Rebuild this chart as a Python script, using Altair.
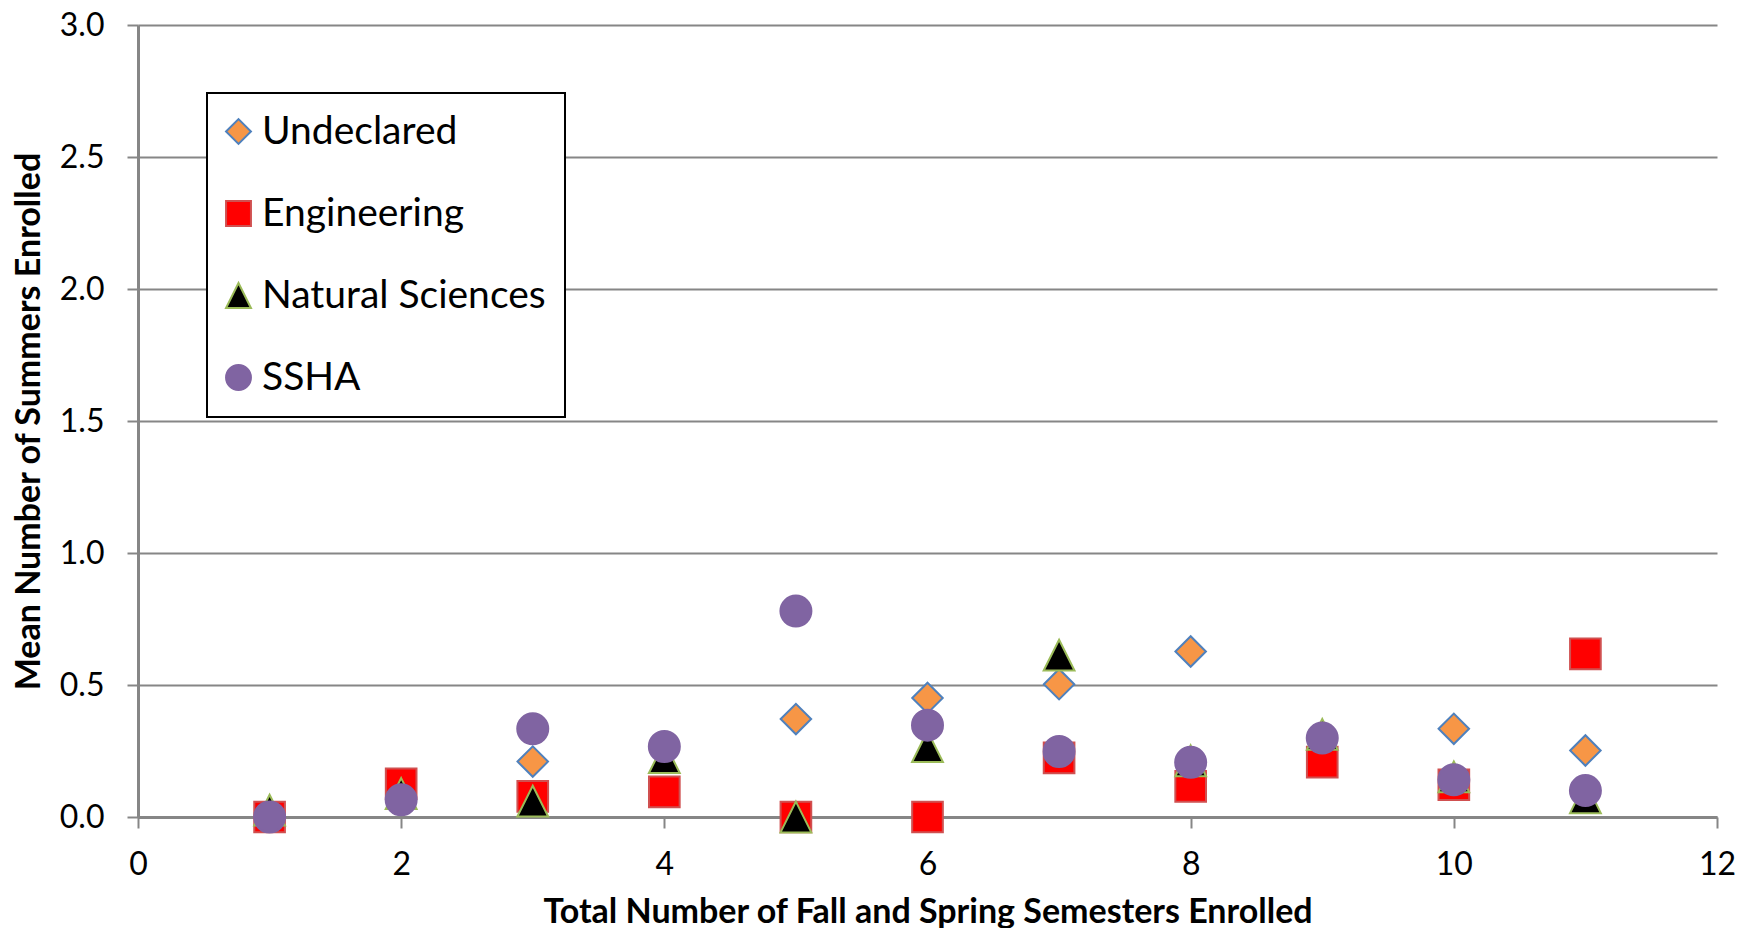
import altair as alt
import pandas as pd

series_names = ["Undeclared", "Engineering", "Natural Sciences", "SSHA"]

undeclared_x = [3, 5, 6, 7, 8, 10, 11]
undeclared_y = [0.21, 0.371, 0.451, 0.503, 0.627, 0.334, 0.252]

engineering_x = [1, 2, 3, 4, 5, 6, 7, 8, 9, 10, 11]
engineering_y = [0.0, 0.126, 0.078, 0.095, 0.0, 0.0, 0.224, 0.116, 0.208, 0.122, 0.618]

natsci_x = [1, 2, 3, 4, 5, 6, 7, 8, 9, 10, 11]
natsci_y = [0.026, 0.089, 0.06, 0.225, 0.0, 0.267, 0.613, 0.213, 0.313, 0.152, 0.073]

ssha_x = [1, 2, 3, 4, 5, 6, 7, 8, 9, 10, 11]
ssha_y = [0.0, 0.065, 0.334, 0.267, 0.78, 0.348, 0.248, 0.207, 0.299, 0.141, 0.1]

x_ticks = [0, 2, 4, 6, 8, 10, 12]
y_ticks = [0.0, 0.5, 1.0, 1.5, 2.0, 2.5, 3.0]

fills = ["#F79646", "#FF0000", "#000000", "#8064A2"]
strokes = ["#4F81BD", "#D05050", "#9BBB59", "#8064A2"]
shapes = ["diamond", "square", "M0,-1L1,1L-1,1Z", "circle"]
sizes = [930, 961, 841, 1024]

rows = []
for name, xs, ys in [
    ("Undeclared", undeclared_x, undeclared_y),
    ("Engineering", engineering_x, engineering_y),
    ("Natural Sciences", natsci_x, natsci_y),
    ("SSHA", ssha_x, ssha_y),
]:
    for xv, yv in zip(xs, ys):
        rows.append({"series": name, "x": xv, "y": yv})
df = pd.DataFrame(rows)

grid_col = "#868686"

legend = alt.Legend(
    title=None,
    orient="none",
    legendX=69,
    legendY=68,
    fillColor="white",
    strokeColor="black",
    padding=19,
    labelFont="Lato",
    labelFontSize=39,
    labelColor="black",
    labelOffset=4,
    labelLimit=500,
    symbolOffset=-7,
    symbolSize=620,
    symbolStrokeWidth=2,
    rowPadding=42,
)

chart = (
    alt.Chart(df)
    .mark_point(filled=True, strokeWidth=2, opacity=1)
    .encode(
        x=alt.X(
            "x:Q",
            scale=alt.Scale(domain=[0, 12], nice=False, zero=False),
            axis=alt.Axis(
                values=x_ticks,
                grid=False,
                tickSize=11,
                tickWidth=2,
                tickColor=grid_col,
                domainColor=grid_col,
                domainWidth=3,
                labelFont="Lato",
                labelFontSize=32,
                labelColor="black",
                labelPadding=21,
                labelFlush=False,
                title="Total Number of Fall and Spring Semesters Enrolled",
                titleFont="Lato",
                titleFontSize=34,
                titleFontWeight="bold",
                titleColor="black",
                titleBaseline="alphabetic",
                titleY=105,
            ),
        ),
        y=alt.Y(
            "y:Q",
            scale=alt.Scale(domain=[0, 3], nice=False),
            axis=alt.Axis(
                values=y_ticks,
                format=".1f",
                grid=True,
                gridColor=grid_col,
                gridWidth=2,
                tickSize=11,
                tickWidth=2,
                tickColor=grid_col,
                domainColor=grid_col,
                domainWidth=3,
                labelFont="Lato",
                labelFontSize=32,
                labelColor="black",
                labelPadding=23,
                labelFlush=False,
                title="Mean Number of Summers Enrolled",
                titleFont="Lato",
                titleFontSize=34,
                titleFontWeight="bold",
                titleColor="black",
                titleAngle=270,
                titleBaseline="alphabetic",
                titleX=-99,
            ),
        ),
        shape=alt.Shape("series:N", scale=alt.Scale(domain=series_names, range=shapes), legend=legend),
        fill=alt.Fill("series:N", scale=alt.Scale(domain=series_names, range=fills), legend=legend),
        stroke=alt.Stroke("series:N", scale=alt.Scale(domain=series_names, range=strokes), legend=legend),
        size=alt.Size("series:N", sort=series_names, scale=alt.Scale(range=sizes), legend=None),
    )
    .properties(
        width=1579,
        height=792,
        autosize=alt.AutoSizeParams(type="none"),
        padding={"left": 130, "top": 17, "right": 18, "bottom": 111},
    )
    .configure_view(stroke=None)
    .configure_legend(strokeWidth=2)
)

chart.save("out.html", embed_options={"renderer": "svg", "actions": False})
